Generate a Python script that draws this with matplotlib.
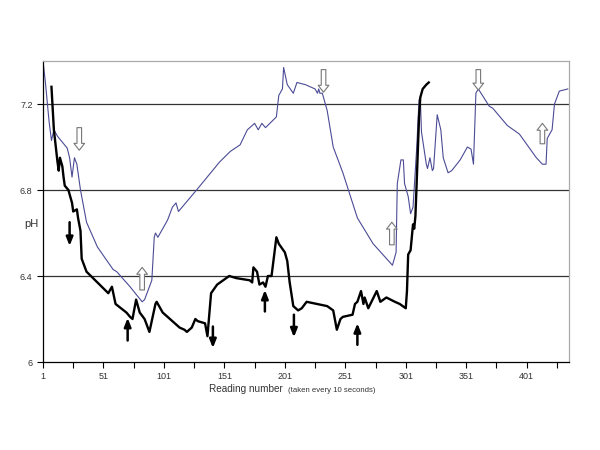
import matplotlib
matplotlib.use('Agg')
import matplotlib.pyplot as plt

plt.rcParams['font.family'] = ['Liberation Sans', 'DejaVu Sans']

# blue (thin) series
blue_x = [1, 3, 6, 8, 10, 13, 21, 23, 25, 27, 29, 32, 37, 46, 59, 62, 73, 83, 85, 91,
          93, 94, 96, 99, 104, 108, 111, 113, 128, 147, 156, 164, 170, 176, 179, 182,
          185, 194, 196, 199, 200, 203, 208, 211, 218, 226, 228, 229, 230, 232, 236,
          241, 249, 261, 274, 290, 293, 294, 297, 299, 300, 303, 305, 307, 310, 312,
          313, 314, 318, 319, 321, 323, 324, 327, 330, 332, 336, 339, 346, 352, 355,
          357, 359, 361, 370, 373, 385, 395, 409, 414, 417, 418, 422, 424, 428, 435]
blue_y = [7.40, 7.30, 7.12, 7.03, 7.08, 7.05, 6.995, 6.95, 6.86, 6.95, 6.92, 6.80, 6.65,
          6.535, 6.43, 6.42, 6.35, 6.28, 6.29, 6.38, 6.58, 6.60, 6.58, 6.61, 6.66, 6.72,
          6.74, 6.70, 6.80, 6.93, 6.98, 7.01, 7.08, 7.11, 7.08, 7.11, 7.09, 7.14, 7.24,
          7.27, 7.37, 7.29, 7.25, 7.30, 7.29, 7.27, 7.25, 7.27, 7.25, 7.25, 7.17, 7.00,
          6.88, 6.67, 6.55, 6.45, 6.51, 6.83, 6.94, 6.94, 6.83, 6.77, 6.69, 6.72, 6.99,
          7.22, 7.23, 7.07, 6.92, 6.90, 6.95, 6.89, 6.90, 7.15, 7.08, 6.95, 6.88, 6.89,
          6.94, 7.00, 6.99, 6.92, 7.25, 7.27, 7.19, 7.18, 7.10, 7.06, 6.95, 6.92, 6.92,
          7.04, 7.08, 7.20, 7.26, 7.27]

# black (thick) series
black_x = [8, 10, 13, 14, 15, 17, 18, 19, 22, 25, 26, 29, 30, 32, 33, 37, 46, 55, 58, 61,
           70, 73, 75, 78, 81, 85, 89, 94, 95, 100, 106, 114, 118, 120, 122, 124, 127,
           129, 135, 137, 140, 145, 155, 161, 172, 174, 175, 178, 180, 183, 185, 187,
           190, 194, 196, 201, 203, 205, 208, 212, 215, 219, 236, 241, 244, 247, 249,
           257, 259, 261, 264, 266, 267, 270, 277, 280, 285, 292, 296, 301, 302, 303,
           305, 306, 307, 308, 309, 310, 312, 313, 315, 318, 320]
black_y = [7.28, 7.08, 6.93, 6.89, 6.95, 6.91, 6.86, 6.82, 6.80, 6.74, 6.70, 6.71, 6.67,
           6.61, 6.48, 6.42, 6.37, 6.32, 6.35, 6.27, 6.23, 6.21, 6.20, 6.29, 6.23, 6.20,
           6.14, 6.27, 6.28, 6.23, 6.20, 6.16, 6.15, 6.14, 6.15, 6.16, 6.20, 6.19, 6.18,
           6.12, 6.32, 6.36, 6.40, 6.39, 6.38, 6.37, 6.44, 6.42, 6.36, 6.37, 6.35, 6.40,
           6.40, 6.58, 6.55, 6.51, 6.47, 6.37, 6.26, 6.24, 6.25, 6.28, 6.26, 6.24, 6.15,
           6.20, 6.21, 6.22, 6.27, 6.28, 6.33, 6.27, 6.30, 6.25, 6.33, 6.28, 6.30, 6.28,
           6.27, 6.25, 6.33, 6.50, 6.52, 6.58, 6.64, 6.62, 6.68, 6.83, 7.14, 7.23, 7.27,
           7.29, 7.30]

# arrows: (x, tail y, head y)
black_arrows = [(23, 6.65, 6.54), (71, 6.10, 6.205), (141.5, 6.165, 6.065),
                (184.5, 6.235, 6.335), (208.5, 6.22, 6.115), (261, 6.08, 6.18)]
hollow_arrows = [(31, 7.09, 6.985), (83, 6.335, 6.44), (233, 7.36, 7.255),
                 (289.5, 6.545, 6.65), (361, 7.36, 7.265), (414, 7.015, 7.11)]

xticks = [1, 51, 101, 151, 201, 251, 301, 351, 401]
yticks = [6, 6.4, 6.8, 7.2]

fig = plt.figure(figsize=(6, 4.5), dpi=100)
ax = fig.add_axes([43 / 600, 88 / 450, 526 / 600, 301 / 450])

for yv in yticks[1:]:
    ax.axhline(yv, color='#333333', lw=0.9, zorder=1)

ax.plot(blue_x, blue_y, color='#4b4b96', lw=0.8, zorder=2)
ax.plot(black_x, black_y, color='black', lw=1.7, zorder=3)

for x, y0, y1 in black_arrows:
    ax.annotate('', xy=(x, y1), xytext=(x, y0),
                arrowprops=dict(arrowstyle='-|>,head_length=0.5,head_width=0.2',
                                color='black', lw=1.8, shrinkA=0, shrinkB=0), zorder=4)
for x, y0, y1 in hollow_arrows:
    ax.annotate('', xy=(x, y1), xytext=(x, y0),
                arrowprops=dict(arrowstyle='simple,head_length=0.45,head_width=0.7,tail_width=0.3',
                                fc='white', ec='#777777', lw=0.8, mutation_scale=11,
                                shrinkA=0, shrinkB=0), zorder=4)

ax.set_xlim(1, 436)
ax.set_ylim(6, 7.4)
ax.set_xticks(xticks)
ax.set_xticks(range(26, 436, 50), minor=True)
ax.set_yticks(yticks)
ax.set_yticklabels(['6', '6.4', '6.8', '7.2'])
ax.tick_params(axis='both', which='both', direction='out', length=4, width=0.8,
               labelsize=6.5, colors='black', labelcolor='#333333')
ax.tick_params(axis='x', pad=3)

for s in ['left', 'bottom']:
    ax.spines[s].set_color('black')
    ax.spines[s].set_linewidth(0.9)
for s in ['top', 'right']:
    ax.spines[s].set_color('#aaaaaa')
    ax.spines[s].set_linewidth(0.9)

fig.text(209 / 600, 1 - 389 / 450, 'Reading number', fontsize=7.2, color='#333333',
         ha='left', va='center')
fig.text(288 / 600, 1 - 390 / 450, '(taken every 10 seconds)', fontsize=5.6,
         color='#333333', ha='left', va='center')
fig.text(24 / 600, 1 - 224 / 450, 'pH', fontsize=8, color='#333333',
         ha='left', va='center')

fig.savefig('out.png', dpi=100)
